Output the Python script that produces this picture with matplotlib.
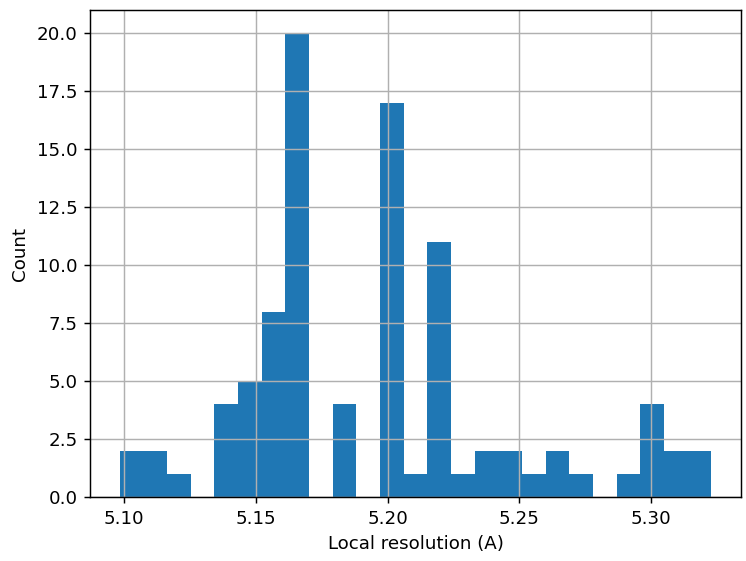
import numpy as np
import matplotlib
matplotlib.use("Agg")
import matplotlib.pyplot as plt

# histogram of local resolution values, 25 equal-width bins
bin_start = 5.0984
bin_end = 5.3228
counts = [2, 2, 1, 0, 4, 5, 8, 20, 0, 4, 0, 17, 1, 11, 1,
          2, 2, 1, 2, 1, 0, 1, 4, 2, 2]

edges = np.linspace(bin_start, bin_end, len(counts) + 1)
centers = (edges[:-1] + edges[1:]) / 2

DPI = 131
fig = plt.figure(figsize=(746 / DPI, 561 / DPI), dpi=DPI)
ax = fig.add_axes([0.121, 0.114, 0.872, 0.868])
ax.hist(centers, bins=edges, weights=counts, color="#1f77b4")
ax.grid(True)
ax.set_xlabel("Local resolution (A)")
ax.set_ylabel("Count")
ax.set_xticks([5.10, 5.15, 5.20, 5.25, 5.30])
ax.set_xticklabels(["5.10", "5.15", "5.20", "5.25", "5.30"])

fig.savefig("out.png", dpi=DPI)
